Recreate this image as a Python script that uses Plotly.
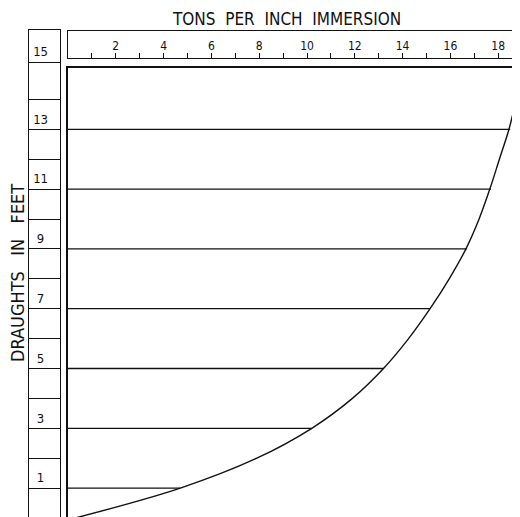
import plotly.graph_objects as go

# ---- data ----
curve_draught = [0, 1, 2, 3, 4, 5, 6, 7, 8, 9, 10, 11, 12, 13, 14, 15]
curve_tons = [0.3, 4.7, 7.9, 10.2, 11.9, 13.2, 14.25, 15.15, 15.95, 16.65, 17.2, 17.65, 18.05, 18.45, 18.75, 19.0]

line_draughts = [1, 3, 5, 7, 9, 11, 13]
line_tons = [4.7, 10.2, 13.2, 15.15, 16.7, 17.7, 18.5]

ruler_ticks = list(range(1, 19))
ruler_labels = [str(v) if v % 2 == 0 else "" for v in ruler_ticks]

scale_lines = [1, 2, 3, 4, 5, 6, 7, 8, 9, 10, 11, 12, 13, 14, 15.25]
scale_labels = ["1", "3", "5", "7", "9", "11", "13", "15"]
scale_label_pos = [1.3, 3.3, 5.3, 7.3, 9.3, 11.3, 13.3, 15.55]

title_text = "TONS  PER  INCH  IMMERSION"
ytitle_text = "DRAUGHTS   IN   FEET"

# page has an 8px body margin: work in reference pixel coords, shifted by OFF
OFF = 8
W, H = 520 - OFF, 517 - OFF


def px(x):
    return (x - OFF) / W


def py(y):
    return 1 - (y - OFF) / H


FONT = "DejaVu Sans Condensed, Liberation Sans Narrow, sans-serif"
INK = "#111111"

fig = go.Figure()

# main chart: horizontal lines and curve
for d, t in zip(line_draughts, line_tons):
    fig.add_trace(go.Scatter(x=[0, t], y=[d, d], mode="lines",
                             line=dict(color=INK, width=1.3),
                             xaxis="x", yaxis="y", showlegend=False, hoverinfo="skip"))
fig.add_trace(go.Scatter(x=curve_tons, y=curve_draught, mode="lines",
                         line=dict(color=INK, width=1.4, shape="spline", smoothing=1.0),
                         xaxis="x", yaxis="y", showlegend=False, hoverinfo="skip"))

# left draught scale labels
fig.add_trace(go.Scatter(x=[0.38] * len(scale_labels), y=scale_label_pos,
                         mode="text", text=scale_labels,
                         textfont=dict(family=FONT, size=13, color=INK),
                         xaxis="x2", yaxis="y2", showlegend=False, hoverinfo="skip"))

# ruler (invisible trace to establish axis)
fig.add_trace(go.Scatter(x=[0, 18.9], y=[0, 1], mode="markers", marker=dict(opacity=0),
                         xaxis="x3", yaxis="y3", showlegend=False, hoverinfo="skip"))

xr = [0, (520 - 68) / 23.9]
yr_main = [(518 - 517) / 29.9, (518 - 68) / 29.9]
yr_col = [(518 - 517) / 29.9, (518 - 30) / 29.9]

fig.update_layout(
    width=W, height=H,
    margin=dict(l=0, r=0, t=0, b=0),
    paper_bgcolor="white", plot_bgcolor="white",
    xaxis=dict(domain=[px(68), 1], range=xr, side="top", showline=True, linecolor=INK,
               linewidth=1.5, showgrid=False, zeroline=False, showticklabels=False, ticks=""),
    yaxis=dict(domain=[0, py(68)], range=yr_main, showline=True, linecolor=INK,
               linewidth=1.5, showgrid=False, zeroline=False, showticklabels=False, ticks=""),
    xaxis2=dict(domain=[px(29), px(59.5)], range=[0, 1], anchor="y2", showline=True, mirror=True,
                linecolor=INK, linewidth=1.3, showgrid=False, zeroline=False,
                showticklabels=False, ticks=""),
    yaxis2=dict(domain=[0, py(30)], range=yr_col, anchor="x2", showline=True, mirror=True,
                linecolor=INK, linewidth=1.3, showgrid=True, gridcolor=INK, gridwidth=1.1,
                tickvals=scale_lines, zeroline=False, showticklabels=False, ticks=""),
    xaxis3=dict(domain=[px(68), 1], range=xr, anchor="y3", showline=True, mirror=True,
                linecolor=INK, linewidth=1.4, showgrid=False, zeroline=False,
                tickvals=ruler_ticks, ticktext=ruler_labels, ticks="inside", ticklen=5,
                tickcolor=INK, tickwidth=1, ticklabelposition="inside",
                tickfont=dict(family=FONT, size=12, color=INK)),
    yaxis3=dict(domain=[py(58), py(31)], range=[0, 1], anchor="x3", showline=True,
                linecolor=INK, linewidth=1.4, showgrid=False, zeroline=False,
                showticklabels=False, ticks=""),
    annotations=[
        dict(text=title_text, x=px(286), y=py(19), xref="paper", yref="paper",
             showarrow=False, xanchor="center", yanchor="middle",
             font=dict(family=FONT, size=17, color=INK)),
        dict(text=ytitle_text, x=px(17), y=py(273), xref="paper", yref="paper",
             showarrow=False, xanchor="center", yanchor="middle", textangle=-90,
             font=dict(family=FONT, size=18, color=INK)),
    ],
)

fig.write_html("out.html")
